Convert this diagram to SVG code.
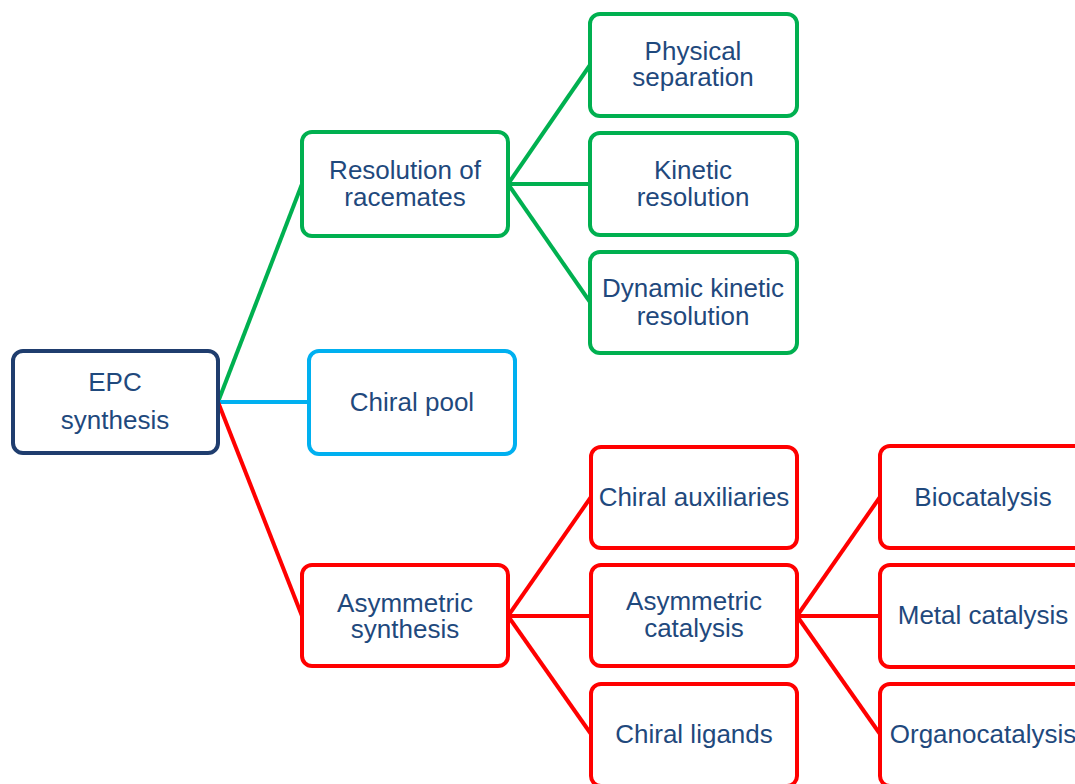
<svg xmlns="http://www.w3.org/2000/svg" width="1075" height="784" viewBox="0 0 1075 784">
<style>
.box{fill:#fff;stroke-width:4}
.g{stroke:#00B050}.b{stroke:#00B0F0}.r{stroke:#FF0000}.n{stroke:#1F3D6E}
.c{fill:none;stroke-width:4}
text{font-family:"Liberation Sans",Arial,sans-serif;font-size:26px;fill:#1F497D;text-anchor:middle}
</style>
<rect width="1075" height="784" fill="#fff"/>
<g id="connectors">
<line class="c g" x1="218" y1="402" x2="302" y2="184"/>
<line class="c b" x1="218" y1="402" x2="309" y2="402"/>
<line class="c r" x1="218" y1="402" x2="302" y2="616"/>
<line class="c g" x1="508" y1="184" x2="590" y2="65"/>
<line class="c g" x1="508" y1="184" x2="590" y2="184"/>
<line class="c g" x1="508" y1="184" x2="590" y2="302"/>
<line class="c r" x1="508" y1="616" x2="591" y2="497"/>
<line class="c r" x1="508" y1="616" x2="591" y2="616"/>
<line class="c r" x1="508" y1="616" x2="591" y2="734"/>
<line class="c r" x1="797" y1="616" x2="880" y2="497"/>
<line class="c r" x1="797" y1="616" x2="880" y2="616"/>
<line class="c r" x1="797" y1="616" x2="880" y2="734"/>
</g>
<g id="epc"><rect class="box n" x="13" y="351" width="205" height="102" rx="10"/><text x="115" y="391">EPC</text><text x="115" y="429">synthesis</text></g>
<g id="resolution"><rect class="box g" x="302" y="132" width="206" height="104" rx="10"/><text x="405" y="179">Resolution of</text><text x="405" y="206">racemates</text></g>
<g id="physical"><rect class="box g" x="590" y="14" width="207" height="102" rx="10"/><text x="693" y="60">Physical</text><text x="693" y="86">separation</text></g>
<g id="kinetic"><rect class="box g" x="590" y="133" width="207" height="102" rx="10"/><text x="693" y="179">Kinetic</text><text x="693" y="206">resolution</text></g>
<g id="dynamic"><rect class="box g" x="590" y="252" width="207" height="101" rx="10"/><text x="693" y="297">Dynamic kinetic</text><text x="693" y="325">resolution</text></g>
<g id="chiralpool"><rect class="box b" x="309" y="351" width="206" height="103" rx="10"/><text x="412" y="411">Chiral pool</text></g>
<g id="asymsynth"><rect class="box r" x="302" y="565" width="206" height="101" rx="10"/><text x="405" y="612">Asymmetric</text><text x="405" y="638">synthesis</text></g>
<g id="auxiliaries"><rect class="box r" x="591" y="447" width="206" height="101" rx="10"/><text x="694" y="506">Chiral auxiliaries</text></g>
<g id="asymcat"><rect class="box r" x="591" y="565" width="206" height="101" rx="10"/><text x="694" y="610">Asymmetric</text><text x="694" y="637">catalysis</text></g>
<g id="ligands"><rect class="box r" x="591" y="684" width="206" height="102" rx="10"/><text x="694" y="743">Chiral ligands</text></g>
<g id="bio"><rect class="box r" x="880" y="446" width="206" height="102" rx="10"/><text x="983" y="506">Biocatalysis</text></g>
<g id="metal"><rect class="box r" x="880" y="565" width="206" height="102" rx="10"/><text x="983" y="624">Metal catalysis</text></g>
<g id="organo"><rect class="box r" x="880" y="684" width="206" height="102" rx="10"/><text x="983" y="743">Organocatalysis</text></g>
</svg>
